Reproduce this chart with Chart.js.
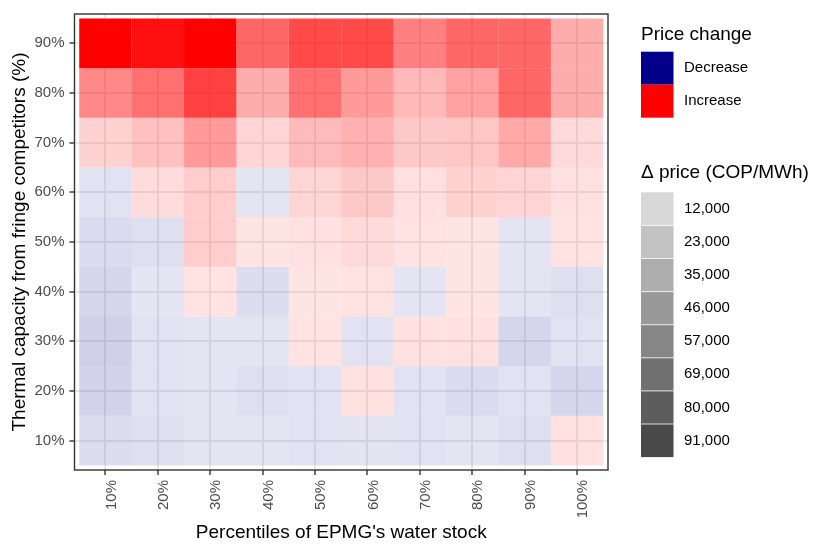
<!DOCTYPE html>
<html>
<head>
<meta charset="utf-8">
<script src="https://cdn.jsdelivr.net/npm/chart.js@4.4.1/dist/chart.umd.min.js"></script>
<style>
  html, body { margin: 0; padding: 0; background: #ffffff; }
  #wrap { width: 830px; height: 554px; }
</style>
</head>
<body>
<div id="wrap"><canvas id="heat" width="830" height="554"></canvas></div>
<script>
// percentiles of the water stock (x) and fringe thermal capacity (y)
const xLabels = ["10%", "20%", "30%", "40%", "50%", "60%", "70%", "80%", "90%", "100%"];
const yLabels = ["10%", "20%", "30%", "40%", "50%", "60%", "70%", "80%", "90%"];

// price change in COP/MWh, one array per capacity row (negative = decrease)
const row10 = [-5100, -3900, -1600, -1600, -2800, -2200, -2800, -1600, -3900, 3300];
const row20 = [-9600, -2800, -1600, -3900, -2800, 3300, -2800, -5600, -2800, -8400];
const row30 = [-10700, -2800, -1600, -1600, 2800, -2800, 3300, 3300, -8400, -2800];
const row40 = [-8400, -1100, 2800, -5100, 1600, 2800, -1600, 1600, -1600, -3900];
const row50 = [-5600, -3900, 11900, 1600, 3300, 6200, 2800, 1600, -1600, 2800];
const row60 = [-2800, 5100, 11900, -1600, 7800, 14200, 3900, 9600, 9000, 3300];
const row70 = [9600, 17600, 34700, 8500, 19900, 24400, 14200, 15300, 27800, 6200];
const row80 = [42600, 52900, 74500, 26700, 52900, 34700, 21000, 31300, 57400, 26700];
const row90 = [103000, 96000, 103000, 57400, 70000, 70000, 46000, 57400, 57400, 26700];
const priceDelta = [row10, row20, row30, row40, row50, row60, row70, row80, row90];

// legend entries
const signLabels = ["Decrease", "Increase"];
const alphaBreaks = [12000, 23000, 35000, 46000, 57000, 69000, 80000, 91000];

const FONT = "'Liberation Sans', Arial, Helvetica, sans-serif";
const BLUE = [0, 0, 139];
const RED = [255, 0, 0];

// alpha goes linearly from 0.1 to 1 over the range of |delta|
const absVals = priceDelta.flat().map(Math.abs);
const vMin = Math.min(...absVals);
const vMax = Math.max(...absVals);
function alphaFor(v) {
	return 0.1 + 0.9 * (Math.abs(v) - vMin) / (vMax - vMin);
}
function cellColor(v) {
	const c = v < 0 ? BLUE : RED;
	return `rgba(${c[0]}, ${c[1]}, ${c[2]}, ${alphaFor(v).toFixed(3)})`;
}

const datasets = priceDelta.map((row, r) => ({
	label: yLabels[r],
	data: row.map((v, c) => ({ x: c + 1, y: [r + 0.5, r + 1.5] })),
	backgroundColor: row.map(cellColor),
	borderWidth: 0,
	inflateAmount: 0,
	barPercentage: 1,
	categoryPercentage: 1,
	grouped: false,
}));

// panel border, axis titles and the two legends
const decorations = {
	id: "decorations",
	afterDatasetsDraw(chart) {
		const { ctx, chartArea: a } = chart;
		ctx.save();
		ctx.strokeStyle = "#333333";
		ctx.lineWidth = 1.4;
		ctx.strokeRect(a.left, a.top, a.right - a.left, a.bottom - a.top);
		ctx.restore();
	},
	afterDraw(chart) {
		const { ctx, chartArea: a } = chart;
		ctx.save();
		ctx.fillStyle = "#000000";
		ctx.font = `19px ${FONT}`;

		// x title
		ctx.textAlign = "center";
		ctx.textBaseline = "alphabetic";
		ctx.fillText("Percentiles of EPMG's water stock", (a.left + a.right) / 2, 538);

		// y title
		ctx.save();
		ctx.translate(20, (a.top + a.bottom) / 2);
		ctx.rotate(-Math.PI / 2);
		ctx.textBaseline = "middle";
		ctx.fillText("Thermal capacity from fringe competitors (%)", 0, 0);
		ctx.restore();

		// legend: price change sign
		const lx = 641, kw = 32.5;
		ctx.textAlign = "left";
		ctx.fillText("Price change", lx, 39.5);
		const signCols = [BLUE, RED];
		ctx.font = `15px ${FONT}`;
		ctx.textBaseline = "middle";
		signLabels.forEach((lab, i) => {
			const y = 51.7 + i * 33;
			const c = signCols[i];
			ctx.fillStyle = `rgb(${c[0]}, ${c[1]}, ${c[2]})`;
			ctx.fillRect(lx, y, kw, 33);
			ctx.fillStyle = "#000000";
			ctx.fillText(lab, 684, y + 16.5);
		});

		// legend: delta price (alpha)
		ctx.font = `19px ${FONT}`;
		ctx.textBaseline = "alphabetic";
		ctx.fillText("\u0394 price (COP/MWh)", lx, 177.5);
		ctx.font = `15px ${FONT}`;
		ctx.textBaseline = "middle";
		const kh = 33.1;
		alphaBreaks.forEach((b, i) => {
			const y = 192.3 + i * kh;
			ctx.fillStyle = `rgba(51, 51, 51, ${alphaFor(b).toFixed(3)})`;
			ctx.fillRect(lx, y, kw, kh);
			ctx.fillStyle = "#000000";
			ctx.fillText(b.toLocaleString("en-US"), 684, y + kh / 2);
		});
		// thin white separators between keys
		ctx.strokeStyle = "#ffffff";
		ctx.lineWidth = 0.8;
		for (let i = 1; i < alphaBreaks.length; i++) {
			const y = 192.3 + i * kh;
			ctx.beginPath();
			ctx.moveTo(lx, y);
			ctx.lineTo(lx + kw, y);
			ctx.stroke();
		}
		ctx.restore();
	},
};

const tickFont = { family: FONT, size: 15 };

new Chart(document.getElementById("heat"), {
	type: "bar",
	data: { datasets: datasets },
	options: {
		responsive: false,
		animation: false,
		layout: { padding: { left: 0, top: 11, right: 222, bottom: 0 } },
		plugins: {
			legend: { display: false },
			tooltip: { enabled: false },
		},
		scales: {
			x: {
				type: "linear",
				min: 0.41,
				max: 10.59,
				offset: false,
				afterBuildTicks: (axis) => {
					axis.ticks = xLabels.map((_, i) => ({ value: i + 1 }));
				},
				afterFit: (scale) => {
					scale.height = 84;
				},
				ticks: {
					autoSkip: false,
					minRotation: 90,
					maxRotation: 90,
					padding: 5,
					labelOffset: 6,
					color: "#4D4D4D",
					font: tickFont,
					callback: (v) => xLabels[v - 1],
				},
				grid: {
					offset: false,
					color: "#EBEBEB",
					lineWidth: 2,
					tickLength: 5,
					tickColor: "#333333",
					tickWidth: 1.4,
				},
				border: { display: false },
			},
			y: {
				type: "linear",
				min: 0.41,
				max: 9.59,
				beginAtZero: false,
				afterBuildTicks: (axis) => {
					axis.ticks = yLabels.map((_, i) => ({ value: i + 1 }));
				},
				afterFit: (scale) => {
					scale.width = 74.5;
				},
				ticks: {
					padding: 5,
					color: "#4D4D4D",
					font: tickFont,
					callback: (v) => yLabels[v - 1],
				},
				grid: {
					color: "#EBEBEB",
					lineWidth: 2,
					tickLength: 5,
					tickColor: "#333333",
					tickWidth: 1.4,
				},
				border: { display: false },
			},
		},
	},
	plugins: [decorations],
});
</script>
</body>
</html>
